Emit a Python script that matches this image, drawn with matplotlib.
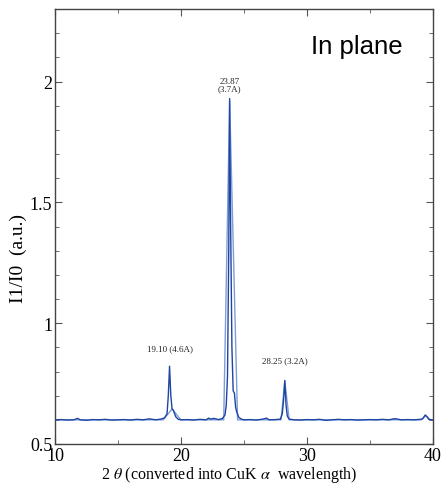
import numpy as np
import matplotlib.pyplot as plt
from matplotlib.ticker import MultipleLocator

plt.rcParams['mathtext.fontset'] = 'stix'

# measured trace, 2theta (deg) / I1/I0
two_theta = [10.0, 10.5, 11.0, 11.5, 11.8, 12.0, 12.5, 13.0, 13.5, 14.0, 14.5, 15.0, 15.5, 16.0, 16.5, 17.0, 17.5, 18.0, 18.4,
             18.7, 18.9, 19.0, 19.1, 19.2, 19.3, 19.4, 19.5, 19.6, 19.8, 20.0,
             20.5, 21.0, 21.5, 22.0, 22.2, 22.4, 22.6, 23.0, 23.3,
             23.5, 23.6, 23.7, 23.8, 23.87, 23.95, 24.05, 24.15, 24.25, 24.35, 24.45, 24.6, 24.8,
             25.0, 25.5, 26.0, 26.5, 26.8, 27.0, 27.5, 27.9,
             28.05, 28.15, 28.25, 28.35, 28.45, 28.6,
             29.0, 29.5, 30.0, 30.5, 31.0, 31.5, 32.0, 32.5, 33.0, 33.5, 34.0, 34.5, 35.0, 35.5, 36.0, 36.5, 37.0, 37.5, 38.0, 38.5, 39.0,
             39.2, 39.4, 39.55, 39.7, 40.0]
intensity = [0.600, 0.601, 0.599, 0.600, 0.606, 0.600, 0.598, 0.601, 0.600, 0.602, 0.599, 0.600, 0.601, 0.599, 0.602, 0.600, 0.604, 0.600, 0.603,
             0.608, 0.625, 0.70, 0.822, 0.70, 0.645, 0.64, 0.625, 0.612, 0.602, 0.600,
             0.601, 0.599, 0.602, 0.600, 0.607, 0.603, 0.606, 0.601, 0.606,
             0.62, 0.66, 0.78, 1.30, 1.93, 1.40, 0.90, 0.72, 0.71, 0.65, 0.63, 0.61, 0.603,
             0.600, 0.601, 0.599, 0.603, 0.607, 0.600, 0.601, 0.603,
             0.625, 0.68, 0.763, 0.66, 0.615, 0.603,
             0.600, 0.599, 0.601, 0.600, 0.602, 0.598, 0.600, 0.602, 0.600, 0.601, 0.599, 0.600, 0.601, 0.600, 0.602, 0.600, 0.605, 0.600, 0.601, 0.600, 0.602,
             0.605, 0.620, 0.612, 0.601, 0.600]

# fitted peaks + baseline (lighter line)
fit_x = [10.0, 18.6, 19.3, 20.0, 23.4, 23.87, 24.5, 27.95, 28.25, 28.6, 39.1, 39.45, 39.8, 40.0]
fit_y = [0.6, 0.6, 0.645, 0.6, 0.6, 1.92, 0.6, 0.6, 0.76, 0.6, 0.6, 0.618, 0.6, 0.6]

peak_pos = [19.10, 23.87, 28.25]
peak_text = ['19.10 (4.6A)', '23.87\n(3.7A)', '28.25 (3.2A)']
peak_text_y = [0.88, 1.955, 0.83]

serif = ['Liberation Serif', 'DejaVu Serif']

fig = plt.figure(figsize=(4.43, 4.85), dpi=100)
ax = fig.add_axes([0.124, 0.0825, 0.853, 0.8965])

ax.plot(fit_x, fit_y, color='#7f9dd8', lw=1.0)
ax.plot(two_theta, intensity, color='#1f45a3', lw=1.0)

for x, t, ty in zip(peak_pos, peak_text, peak_text_y):
    ax.text(x, ty, t, fontsize=6.5, family=serif, ha='center', va='bottom',
            linespacing=1.0, color='#222222')

ax.text(0.92, 0.915, 'In plane', transform=ax.transAxes, fontsize=18.5,
        family=['Liberation Sans', 'DejaVu Sans'], ha='right', va='center')

ax.set_xlim(10, 40)
ax.set_ylim(0.5, 2.3)
ax.xaxis.set_major_locator(MultipleLocator(10))
ax.xaxis.set_minor_locator(MultipleLocator(5))
ax.yaxis.set_minor_locator(MultipleLocator(0.1))
ax.set_yticks([0.5, 1, 1.5, 2])
ax.set_yticklabels(['0.5', '1', '1.5', '2'])
ax.tick_params(which='both', direction='in', top=True, right=True, color='#555555')
ax.tick_params(which='major', length=5, labelsize=13, pad=2)
ax.tick_params(which='minor', length=3)
for lab in ax.get_xticklabels() + ax.get_yticklabels():
    lab.set_family(serif)
for s in ax.spines.values():
    s.set_color('#444444')
    s.set_linewidth(1.0)

ax.set_xlabel('2 $\\theta$ (converted into CuK $\\alpha$  wavelength)', family=serif,
              fontsize=11.5, labelpad=1)
ax.xaxis.set_label_coords(0.46, -0.045)
ax.set_ylabel('I1/I0  (a.u.)', family=serif, fontsize=14)
ax.yaxis.set_label_coords(-0.074, 0.43)

fig.savefig('out.png', dpi=100)
